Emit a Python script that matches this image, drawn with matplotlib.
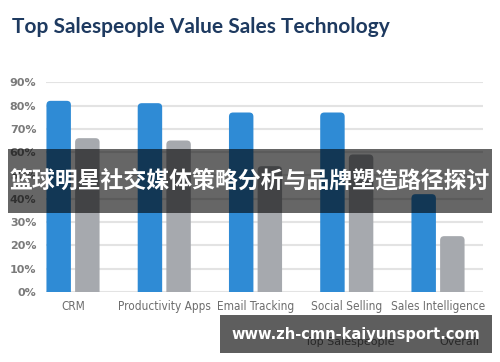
import numpy as np
import matplotlib
matplotlib.use("Agg")
import matplotlib.pyplot as plt
from matplotlib.patches import FancyBboxPatch, Rectangle

categories = ["CRM", "Productivity Apps", "Email Tracking", "Social Selling", "Sales Intelligence"]
top_sales = [82, 81, 77, 77, 42]
overall = [66, 65, 54, 59, 24]
yticks = [0, 10, 20, 30, 40, 50, 60, 70, 80, 90]

blue = "#2f8bd5"
grey = "#a6a9ae"

fig = plt.figure(figsize=(5, 3.62), dpi=100)
ax = fig.add_axes([0.092, 0.193, 0.874, 0.580])

x = np.arange(len(categories))
w = 0.268
off = 0.157
b1 = ax.bar(x - off, top_sales, w, color=blue, label="Top Salespeople", zorder=3)
b2 = ax.bar(x + off, overall, w, color=grey, label="Overall", zorder=3)

# swap plain bars for ones with rounded tops
asp = (91.3 / 2.33)
r = 0.045
for bars in (b1, b2):
    for p in bars:
        p.set_visible(False)
        bx, by = p.get_x(), p.get_y()
        bw, bh = p.get_width(), p.get_height()
        fb = FancyBboxPatch((bx, by - 5), bw, bh + 5,
                            boxstyle="round,pad=0,rounding_size=%g" % r,
                            mutation_aspect=asp, fc=p.get_facecolor(),
                            ec="none", zorder=3)
        ax.add_patch(fb)

ax.set_xlim(-0.296, 4.493)
ax.set_ylim(0, 90)
ax.set_yticks(yticks)
ax.set_yticklabels(["%d%%" % v for v in yticks], color="#7a7a7a",
                   fontsize=8, fontweight="bold")
ax.set_xticks(x)
ax.set_xticklabels(categories, color="#6d6d6d", fontsize=8.5,
                   family="DejaVu Sans", fontstretch="condensed")
ax.tick_params(length=0, pad=7)
ax.tick_params(axis="x", pad=6)
ax.grid(axis="y", color="#e3e3e3", lw=1.5, zorder=0)
for s in ax.spines.values():
    s.set_visible(False)

fig.text(0.024, 0.925, "Top Salespeople Value Sales Technology", color="#1e3a60",
         fontsize=15, fontweight="bold", va="center", ha="left",
         family=["Lato", "DejaVu Sans"])

ax.legend(loc="center left", bbox_to_anchor=(0.551, -0.238), ncol=2, frameon=False,
          fontsize=8, handlelength=1, handleheight=1, columnspacing=2.5,
          handletextpad=0.6, borderpad=0, borderaxespad=0,
          labelcolor="#6d6d6d")

# overlay bands
fig.patches.append(Rectangle((8 / 500, 1 - 213 / 362), 484 / 500, 64 / 362,
                             transform=fig.transFigure, fc="black", alpha=0.6,
                             ec="none", zorder=10))
fig.text(0.5, 1 - 181 / 362, "篮球明星社交媒体策略分析与品牌塑造路径探讨", color="white",
         fontsize=16.5, fontweight="bold", ha="center", va="center", zorder=11,
         family=["Noto Sans CJK SC", "DejaVu Sans"])
fig.patches.append(Rectangle((220 / 500, 1 - 353 / 362), 272 / 500, 38 / 362,
                             transform=fig.transFigure, fc="black", alpha=0.63,
                             ec="none", zorder=10))
fig.text(356 / 500, 1 - 334 / 362, "www.zh-cmn-kaiyunsport.com", color="white",
         fontsize=10.5, fontweight="bold", ha="center", va="center", zorder=11)

fig.savefig("out.png", dpi=100)
